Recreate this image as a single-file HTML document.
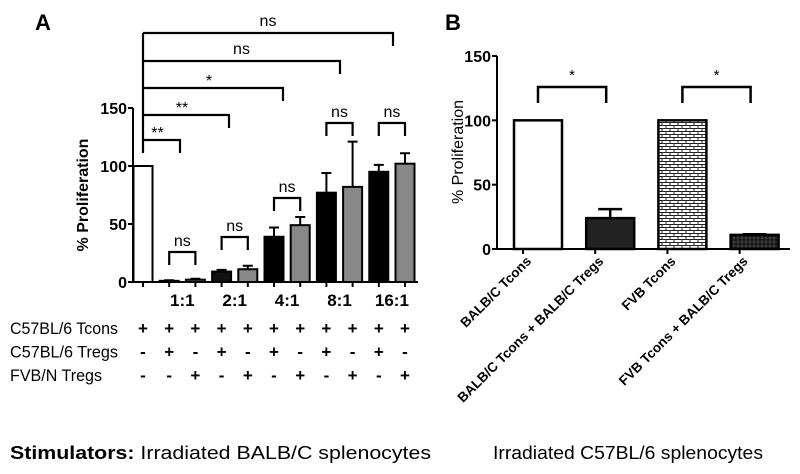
<!DOCTYPE html>
<html><head><meta charset="utf-8"><style>
html,body{margin:0;padding:0;background:#fff;width:800px;height:474px;overflow:hidden}
svg{display:block;font-family:"Liberation Sans",Arial,sans-serif}
</style></head><body>
<svg id="fig" width="800" height="474" viewBox="0 0 800 474" xmlns="http://www.w3.org/2000/svg">
<defs>
<pattern id="brick" width="8" height="6" patternUnits="userSpaceOnUse">
<rect width="8" height="6" fill="#fff"/>
<path d="M0 2.5H8M0 5.5H8M2 0V2.5M6 3V5.5" stroke="#222" stroke-width="1"/>
</pattern>
<pattern id="grid" width="4" height="4" patternUnits="userSpaceOnUse">
<rect width="4" height="4" fill="#111"/>
<path d="M0 2H4M2 0V4" stroke="#666" stroke-width="0.6"/>
</pattern>
</defs>
<g id="A"></g>
<g id="B"></g>
<text x="10" y="459" font-size="18.5" textLength="421" lengthAdjust="spacingAndGlyphs"><tspan font-weight="bold">Stimulators:</tspan> Irradiated BALB/C splenocytes</text>
<text x="493" y="459" font-size="18.5" textLength="270" lengthAdjust="spacingAndGlyphs">Irradiated C57BL/6 splenocytes</text>
</svg>
<script>
// Panel A data
const aValues = [100, 1, 2, 9, 11, 39, 49, 77, 82, 95, 102];
const aErrors = [0, 0.5, 0.8, 1.5, 3, 8, 7, 17, 39, 6, 9];
const aColors = ['#fff','#111','#888','#111','#888','#000','#888','#000','#888','#000','#888'];
const aTicks = [0, 50, 100, 150];
const aRatios = ['1:1','2:1','4:1','8:1','16:1'];
const rowLabels = ['C57BL/6 Tcons','C57BL/6 Tregs','FVB/N Tregs'];
const rowSigns = [
 ['+','+','+','+','+','+','+','+','+','+','+'],
 ['-','+','-','+','-','+','-','+','-','+','-'],
 ['-','-','+','-','+','-','+','-','+','-','+']];
const pairSig = ['ns','ns','ns','ns','ns'];
const bigSig = ['**','**','*','ns','ns'];
// Panel B data
const bCats = ['BALB/C Tcons','BALB/C Tcons + BALB/C Tregs','FVB Tcons','FVB Tcons + BALB/C Tregs'];
const bValues = [100, 24, 100, 11];
const bErrors = [0, 7, 0, 0.5];
const bFills = ['#fff','#222','url(#brick)','url(#grid)'];
const bTicks = [0, 50, 100, 150];
const bSig = ['*','*'];

const NS='http://www.w3.org/2000/svg';
function mk(parent, tag, attrs, txt){const e=document.createElementNS(NS,tag);for(const k in attrs)e.setAttribute(k,attrs[k]);if(txt!==undefined)e.textContent=txt;parent.appendChild(e);return e;}

// ---- Panel A ----
const A=document.getElementById('A');
const ax0=133, ay0=282, aScale=174/150;
const ya=v=>ay0-v*aScale;
const xa=i=>143+i*26.2;
let t=mk(A,'text',{x:35,y:30,'font-size':22,'font-weight':'bold'},'A');


aValues.forEach((v,i)=>{
  const bw=19, x=xa(i)-bw/2;
  if(aErrors[i]>0){
    const l=mk(A,'path',{d:`M${xa(i)} ${ya(v)}V${ya(v+aErrors[i])}M${xa(i)-5} ${ya(v+aErrors[i])}H${xa(i)+5}`,stroke:'#000','stroke-width':2,fill:'none'});
    
    
  }
  const r=mk(A,'rect',{x:x,y:ya(v),width:bw,height:Math.max(ay0-ya(v),1),fill:aColors[i],stroke:'#000','stroke-width':2});
  
  
  const tk=mk(A,'line',{x1:xa(i),x2:xa(i),y1:ay0,y2:ay0+5,stroke:'#000','stroke-width':2});
  
  
  rowSigns.forEach((row,j)=>{
    const s=mk(A,'text',{x:xa(i),y:334+j*23.5,'font-size':17,'font-weight':'bold','text-anchor':'middle'},row[i]);
    
    
  });
});
let ax=mk(A,'path',{d:`M${ax0} ${ya(150)}V${ay0}H418`,stroke:'#000','stroke-width':2,fill:'none'});


aTicks.forEach(v=>{
  const l=mk(A,'line',{x1:ax0-5,x2:ax0,y1:ya(v),y2:ya(v),stroke:'#000','stroke-width':2});
  
  
  const s=mk(A,'text',{x:ax0-6,y:ya(v)+6,'font-size':16,'font-weight':'bold','text-anchor':'end'},v);
  
  
});
t=mk(A,'text',{x:0,y:0,'font-size':16,'font-weight':'bold','text-anchor':'middle',transform:'translate(88,195) rotate(-90)'},'% Proliferation');


aRatios.forEach((r,k)=>{
  const cx=(xa(1+2*k)+xa(2+2*k))/2;
  const s=mk(A,'text',{x:cx,y:306,'font-size':17,'font-weight':'bold','text-anchor':'middle'},r);
  
  
  const by=[252,237,198,123,123][k];
  const b=mk(A,'path',{d:`M${xa(1+2*k)} ${by+13}V${by}H${xa(2+2*k)}V${by+13}`,stroke:'#000','stroke-width':2.2,fill:'none'});
  
  
  const n=mk(A,'text',{x:cx,y:by-6,'font-size':16,'text-anchor':'middle'},pairSig[k]);
  
  
});
rowLabels.forEach((r,j)=>{
  const s=mk(A,'text',{x:10,y:334+j*23.5,'font-size':17,textLength:[108,108,92][j],lengthAdjust:'spacingAndGlyphs'},r);
  
  
});
const bigY=[140,115,88,61,33], bigEnd=[180,229,283,340,393];
let vl=mk(A,'line',{x1:143,x2:143,y1:33,y2:153,stroke:'#000','stroke-width':2.2});


bigSig.forEach((s,k)=>{
  const b=mk(A,'path',{d:`M143 ${bigY[k]}H${bigEnd[k]}V${bigY[k]+13}`,stroke:'#000','stroke-width':2.2,fill:'none'});
  
  
  const n=mk(A,'text',{x:(143+bigEnd[k])/2+(k<3?-4:0),y:bigY[k]-(s==='ns'?7:2),'font-size':16,'text-anchor':'middle'},s);
  
  
});

// ---- Panel B ----
const B=document.getElementById('B');
const bx0=497, by0=249, bScale=193/150;
const yb=v=>by0-v*bScale;
const xb=i=>538+i*72.2;
t=mk(B,'text',{x:445,y:30,'font-size':22,'font-weight':'bold'},'B');


bValues.forEach((v,i)=>{
  const bw=48;
  if(bErrors[i]>0){
    const l=mk(B,'path',{d:`M${xb(i)} ${yb(v)}V${yb(v+bErrors[i])}M${xb(i)-12} ${yb(v+bErrors[i])}H${xb(i)+12}`,stroke:'#000','stroke-width':2.5,fill:'none'});
    
    
  }
  const r=mk(B,'rect',{x:xb(i)-bw/2,y:yb(v),width:bw,height:by0-yb(v),fill:bFills[i],stroke:'#000','stroke-width':2.5});
  
  
  const tk=mk(B,'line',{x1:xb(i)-15,x2:xb(i)-15,y1:by0,y2:by0+5,stroke:'#000','stroke-width':2});
  
  
  const s=mk(B,'text',{x:0,y:0,'font-size':13.5,'font-weight':'bold','text-anchor':'end',transform:`translate(${xb(i)-6},${262}) rotate(-45)`},bCats[i]);
  
  
});
ax=mk(B,'path',{d:`M${bx0} ${yb(150)}V${by0}H790`,stroke:'#000','stroke-width':2,fill:'none'});


bTicks.forEach(v=>{
  const l=mk(B,'line',{x1:bx0-5,x2:bx0,y1:yb(v),y2:yb(v),stroke:'#000','stroke-width':2});
  
  
  const s=mk(B,'text',{x:bx0-6,y:yb(v)+6,'font-size':16,'font-weight':'bold','text-anchor':'end'},v);
  
  
});
t=mk(B,'text',{x:0,y:0,'font-size':16,'text-anchor':'middle',transform:'translate(463,152) rotate(-90)'},'% Proliferation');


bSig.forEach((s,k)=>{
  const x1=xb(2*k)-0, x2=xb(2*k+1)-4;
  const b=mk(B,'path',{d:`M${x1} ${103}V87H${x2}V103`,stroke:'#000','stroke-width':2.5,fill:'none'});
  
  
  const n=mk(B,'text',{x:(x1+x2)/2,y:80,'font-size':15,'text-anchor':'middle'},s);
  
  
});
</script>
</body></html>
